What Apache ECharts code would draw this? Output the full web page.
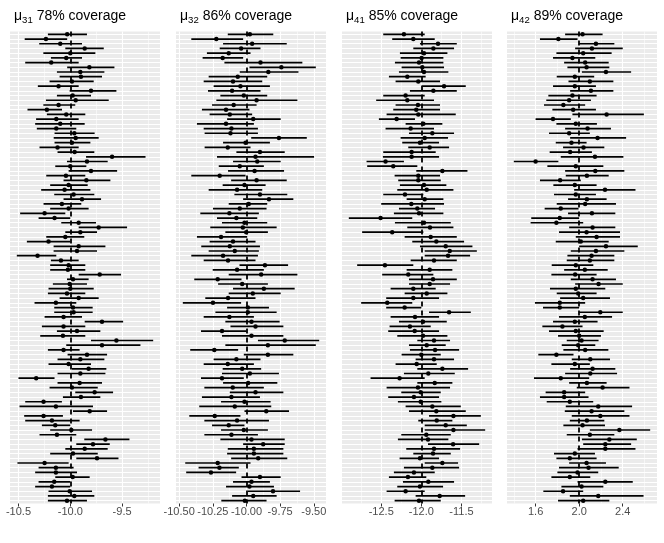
<!DOCTYPE html>
<html lang="en">
<head>
<meta charset="UTF-8">
<title>coverage</title>
<script src="https://cdn.jsdelivr.net/npm/echarts@6/dist/echarts.min.js"></script>
<style>
  html, body { margin: 0; padding: 0; background: #fff; }
  #chart { width: 664px; height: 543px; }
</style>
</head>
<body>
<div id="chart"></div>
<script>
// one row per simulated data set top to bottom
const mu31Est = [-10.03,-10.235,-10.097,-9.861,-10.0,-10.039,-10.184,-9.816,-9.903,-9.897,-9.984,-10.113,-9.8,-9.977,-9.948,-10.113,-10.226,-10.039,-10.135,-10.097,-10.135,-9.961,-9.948,-9.984,-10.123,-9.958,-9.597,-9.839,-10.0,-9.8,-10.042,-9.845,-10.016,-10.055,-9.968,-9.887,-10.081,-10.016,-10.248,-10.152,-9.919,-9.726,-9.903,-10.048,-10.21,-9.919,-9.935,-10.316,-10.09,-10.016,-10.023,-9.716,-9.974,-10.006,-10.0,-10.032,-9.919,-10.139,-9.974,-9.968,-10.065,-9.694,-10.065,-9.935,-10.071,-9.555,-9.694,-10.065,-9.839,-9.903,-10.016,-9.823,-9.903,-10.329,-9.91,-9.984,-9.765,-9.897,-10.258,-10.139,-9.813,-10.258,-10.177,-10.145,-9.99,-10.129,-9.661,-9.781,-9.861,-9.974,-9.742,-10.248,-10.139,-10.139,-9.977,-10.155,-10.177,-10.006,-9.961,-10.032];
const mu31Lo = [-10.216,-10.44,-10.3,-10.048,-10.26,-10.187,-10.435,-10.03,-10.129,-10.103,-10.2,-10.313,-10.006,-10.129,-10.235,-10.26,-10.413,-10.226,-10.33,-10.339,-10.323,-10.152,-10.16,-10.152,-10.297,-10.123,-9.848,-10.032,-10.145,-10.016,-10.232,-10.065,-10.194,-10.281,-10.155,-10.065,-10.258,-10.194,-10.484,-10.306,-10.087,-9.919,-10.048,-10.232,-10.419,-10.161,-10.161,-10.516,-10.187,-10.194,-10.194,-9.919,-10.032,-10.168,-10.21,-10.216,-10.103,-10.345,-10.155,-10.155,-10.248,-9.861,-10.274,-10.129,-10.29,-9.8,-10.039,-10.216,-10.026,-10.123,-10.21,-9.984,-10.123,-10.5,-10.123,-10.2,-9.952,-10.071,-10.435,-10.49,-9.974,-10.445,-10.435,-10.274,-10.194,-10.297,-9.865,-9.942,-10.048,-10.194,-9.942,-10.51,-10.306,-10.339,-10.145,-10.306,-10.339,-10.21,-10.216,-10.216];
const mu31Hi = [-9.839,-10.03,-9.887,-9.677,-9.758,-9.887,-9.919,-9.574,-9.671,-9.694,-9.774,-9.919,-9.555,-9.8,-9.629,-9.952,-10.08,-9.855,-9.919,-9.861,-9.942,-9.765,-9.726,-9.806,-9.919,-9.768,-9.274,-9.639,-9.845,-9.548,-9.855,-9.613,-9.832,-9.806,-9.768,-9.703,-9.894,-9.823,-10.048,-10.0,-9.752,-9.452,-9.742,-9.865,-10.0,-9.661,-9.742,-10.135,-9.919,-9.855,-9.855,-9.51,-9.823,-9.839,-9.774,-9.855,-9.726,-9.942,-9.784,-9.784,-9.887,-9.49,-9.855,-9.71,-9.855,-9.2,-9.323,-9.91,-9.645,-9.671,-9.8,-9.652,-9.661,-10.152,-9.694,-9.735,-9.587,-9.71,-10.081,-9.781,-9.645,-10.071,-9.91,-10.0,-9.79,-9.942,-9.429,-9.619,-9.639,-9.735,-9.535,-10.016,-9.968,-9.935,-9.813,-10.0,-10.0,-9.79,-9.768,-9.839];

const mu32Est = [-9.975,-10.224,-9.958,-10.04,-10.132,-10.177,-9.896,-9.741,-9.838,-10.065,-10.1,-10.045,-10.107,-10.02,-9.925,-10.095,-10.152,-10.124,-9.95,-10.152,-10.112,-10.119,-9.759,-10.007,-10.139,-9.9,-9.933,-9.92,-10.05,-9.94,-10.199,-9.925,-10.015,-10.07,-9.9,-9.833,-9.983,-10.05,-10.127,-10.075,-10.015,-10.027,-10.002,-10.189,-10.1,-10.124,-10.087,-10.174,-10.137,-9.863,-10.07,-9.891,-10.214,-10.032,-9.871,-9.953,-10.137,-10.249,-9.99,-9.99,-10.127,-9.963,-9.933,-10.182,-9.963,-9.716,-9.841,-10.239,-9.841,-10.075,-10.139,-10.032,-9.975,-10.182,-9.988,-10.102,-9.933,-10.112,-10.015,-10.087,-9.853,-10.236,-10.07,-10.132,-10.02,-10.112,-9.963,-9.876,-9.945,-9.945,-9.913,-10.214,-10.201,-10.264,-9.9,-9.963,-9.978,-9.803,-9.95,-10.012];
const mu32Lo = [-10.139,-10.41,-10.174,-10.199,-10.294,-10.326,-10.164,-9.978,-10.05,-10.281,-10.318,-10.244,-10.286,-10.194,-10.224,-10.256,-10.331,-10.274,-10.144,-10.368,-10.318,-10.311,-9.965,-10.174,-10.311,-10.075,-10.219,-10.1,-10.206,-10.137,-10.41,-10.114,-10.177,-10.281,-10.09,-10.025,-10.132,-10.249,-10.343,-10.219,-10.182,-10.269,-10.157,-10.368,-10.274,-10.336,-10.281,-10.41,-10.318,-10.052,-10.251,-10.132,-10.388,-10.211,-10.1,-10.132,-10.306,-10.473,-10.144,-10.231,-10.318,-10.157,-10.119,-10.338,-10.182,-9.915,-10.157,-10.418,-10.02,-10.244,-10.318,-10.177,-10.182,-10.338,-10.174,-10.313,-10.124,-10.331,-10.189,-10.351,-10.015,-10.425,-10.313,-10.256,-10.189,-10.313,-10.194,-10.025,-10.139,-10.144,-10.114,-10.455,-10.356,-10.448,-10.037,-10.1,-10.152,-9.99,-10.107,-10.187];
const mu32Hi = [-9.801,-10.025,-9.701,-9.896,-9.97,-10.025,-9.585,-9.485,-9.614,-9.846,-9.883,-9.826,-9.896,-9.846,-9.622,-9.925,-9.978,-9.958,-9.746,-9.945,-9.915,-9.915,-9.552,-9.826,-9.97,-9.716,-9.498,-9.746,-9.871,-9.721,-10.007,-9.701,-9.858,-9.883,-9.697,-9.652,-9.846,-9.851,-9.908,-9.92,-9.846,-9.776,-9.841,-9.995,-9.933,-9.9,-9.908,-9.915,-9.933,-9.691,-9.871,-9.622,-10.037,-9.841,-9.642,-9.746,-9.933,-10.04,-9.833,-9.776,-9.945,-9.754,-9.726,-10.0,-9.726,-9.46,-9.485,-10.062,-9.652,-9.896,-9.945,-9.891,-9.759,-10.02,-9.771,-9.871,-9.726,-9.9,-9.821,-9.816,-9.684,-10.045,-9.833,-10.015,-9.841,-9.915,-9.716,-9.716,-9.726,-9.726,-9.697,-9.97,-10.057,-10.077,-9.746,-9.826,-9.796,-9.602,-9.776,-9.851];

const mu41Est = [-12.217,-12.1,-11.792,-11.85,-11.967,-11.996,-12.029,-11.988,-11.967,-12.175,-12.038,-11.717,-11.85,-12.196,-12.175,-12.042,-12.063,-12.038,-12.308,-11.975,-12.133,-11.863,-11.958,-12.017,-11.896,-12.121,-12.121,-12.446,-12.35,-11.738,-12.038,-12.038,-11.967,-11.933,-12.204,-11.958,-12.125,-12.05,-12.029,-12.508,-11.967,-11.892,-12.363,-11.883,-11.813,-11.696,-11.646,-11.667,-11.842,-12.454,-11.896,-12.163,-11.854,-11.896,-12.1,-11.933,-12.1,-12.425,-12.208,-11.654,-12.079,-11.979,-12.142,-12.083,-11.979,-11.842,-11.933,-11.829,-12.0,-11.842,-12.058,-11.738,-11.913,-12.271,-11.833,-12.042,-12.008,-12.092,-12.008,-11.863,-11.813,-11.6,-11.808,-11.696,-11.6,-11.938,-11.917,-11.604,-11.842,-11.854,-12.017,-11.738,-11.863,-12.092,-12.167,-11.913,-12.017,-12.196,-11.771,-12.029];
const mu41Lo = [-12.475,-12.363,-12.017,-12.1,-12.267,-12.258,-12.329,-12.246,-12.279,-12.404,-12.321,-11.988,-12.142,-12.475,-12.563,-12.321,-12.35,-12.433,-12.529,-12.196,-12.446,-12.154,-12.258,-12.238,-12.163,-12.475,-12.479,-12.683,-12.675,-12.063,-12.333,-12.288,-12.267,-12.3,-12.475,-12.183,-12.5,-12.279,-12.342,-12.904,-12.329,-12.175,-12.738,-12.208,-12.113,-12.017,-11.958,-11.958,-12.133,-12.8,-12.183,-12.488,-12.154,-12.154,-12.383,-12.208,-12.438,-12.75,-12.438,-11.904,-12.383,-12.279,-12.396,-12.413,-12.3,-12.05,-12.154,-12.142,-12.246,-12.071,-12.321,-12.05,-12.217,-12.633,-12.05,-12.433,-12.25,-12.413,-12.292,-12.196,-12.154,-11.904,-12.038,-11.958,-11.958,-12.25,-12.292,-11.917,-12.188,-12.1,-12.271,-11.958,-12.217,-12.342,-12.404,-12.229,-12.3,-12.433,-12.071,-12.333];
const mu41Hi = [-11.958,-11.833,-11.558,-11.592,-11.675,-11.725,-11.725,-11.717,-11.663,-11.946,-11.767,-11.446,-11.558,-11.958,-11.842,-11.767,-11.767,-11.571,-12.079,-11.738,-11.842,-11.592,-11.667,-11.779,-11.654,-11.821,-11.779,-12.217,-12.05,-11.425,-11.767,-11.758,-11.688,-11.6,-11.975,-11.725,-11.717,-11.829,-11.725,-12.113,-11.633,-11.6,-11.975,-11.558,-11.467,-11.363,-11.308,-11.392,-11.558,-12.1,-11.613,-11.85,-11.558,-11.642,-11.821,-11.675,-11.779,-12.113,-12.0,-11.383,-11.779,-11.683,-11.883,-11.779,-11.675,-11.642,-11.696,-11.529,-11.758,-11.592,-11.808,-11.417,-11.583,-11.958,-11.613,-11.642,-11.758,-11.779,-11.75,-11.508,-11.446,-11.258,-11.613,-11.433,-11.204,-11.633,-11.663,-11.279,-11.517,-11.633,-11.779,-11.542,-11.529,-11.833,-11.938,-11.592,-11.729,-11.958,-11.454,-11.758];

const mu42Est = [2.031,1.809,2.154,2.117,2.037,1.938,2.055,2.068,2.246,1.96,2.098,1.96,2.108,1.938,1.908,1.855,1.945,2.252,1.76,1.969,2.077,1.908,2.169,1.929,2.04,1.917,2.145,1.6,1.969,2.148,2.071,1.825,1.96,2.237,1.969,2.071,2.055,1.831,2.117,1.822,1.791,2.123,2.068,2.16,2.015,2.246,2.154,2.114,2.098,1.969,2.052,1.963,2.123,2.178,1.969,1.991,2.037,1.822,1.822,2.194,2.052,1.96,1.846,1.969,2.0,2.022,1.991,2.055,1.791,2.102,1.96,2.123,2.102,1.831,2.071,2.215,1.862,1.862,1.914,2.175,2.114,2.194,2.071,2.031,2.369,2.098,2.277,2.24,2.24,1.96,1.914,2.068,2.086,1.985,1.914,2.24,2.022,1.852,2.175,2.037];
const mu42Lo = [1.871,1.64,2.0,1.963,1.791,1.76,1.862,1.892,2.025,1.794,1.902,1.76,1.917,1.717,1.698,1.677,1.754,1.938,1.6,1.791,1.871,1.723,1.917,1.785,1.852,1.729,1.831,1.4,1.708,1.871,1.877,1.64,1.763,1.954,1.769,1.898,1.794,1.683,1.898,1.56,1.554,1.908,1.815,1.969,1.785,2.0,1.923,1.892,1.886,1.748,1.862,1.745,1.923,1.963,1.732,1.794,1.825,1.594,1.668,2.0,1.815,1.76,1.662,1.723,1.806,1.886,1.84,1.855,1.625,1.932,1.745,1.917,1.871,1.585,1.908,1.978,1.692,1.64,1.702,1.877,1.868,1.932,1.914,1.855,2.098,1.886,2.025,2.037,1.985,1.769,1.791,1.908,1.815,1.8,1.745,1.985,1.837,1.671,1.914,1.806];
const mu42Hi = [2.215,1.985,2.323,2.4,2.298,2.148,2.271,2.277,2.477,2.138,2.314,2.154,2.314,2.16,2.108,2.055,2.154,2.594,1.923,2.163,2.292,2.098,2.431,2.068,2.231,2.117,2.406,1.809,2.222,2.415,2.271,2.015,2.16,2.517,2.154,2.252,2.338,1.994,2.332,2.0,2.037,2.332,2.375,2.375,2.271,2.538,2.415,2.323,2.323,2.13,2.262,2.16,2.338,2.4,2.24,2.16,2.283,2.055,2.0,2.4,2.302,2.169,2.031,2.225,2.2,2.178,2.148,2.268,1.948,2.283,2.098,2.332,2.348,2.092,2.252,2.462,2.055,2.086,2.129,2.486,2.415,2.462,2.231,2.237,2.652,2.323,2.529,2.477,2.517,2.145,2.16,2.246,2.363,2.175,2.102,2.492,2.222,2.037,2.591,2.277];

// true parameter values (dashed lines) and axis breaks
const trueValues = [-10, -10, -12, 2];
const subscripts = ['31', '32', '41', '42'];
const coverage = ['78%', '86%', '85%', '89%'];
const majorTicks = [[-10.5, -10.0, -9.5], [-10.5, -10.25, -10.0, -9.75, -9.5], [-12.5, -12.0, -11.5], [1.6, 2.0, 2.4]];
const minorTicks = [[-10.25, -9.75, -9.25], [-10.375, -10.125, -9.875, -9.625], [-12.75, -12.25, -11.75, -11.25], [1.4, 1.8, 2.2, 2.6]];
const tickDigits = [1, 2, 1, 1];

const estimates = [mu31Est, mu32Est, mu41Est, mu42Est];
const lowers = [mu31Lo, mu32Lo, mu41Lo, mu42Lo];
const uppers = [mu31Hi, mu32Hi, mu41Hi, mu42Hi];

// layout
const panelLeft = [10, 176, 342, 507];
const panelWidth = 150;
const panelTop = 31.5;
const panelHeight = 472;
const font = 'Liberation Sans';

const rows = mu31Est.map((_, i) => i + 1);

const grids = [], xAxes = [], yAxes = [], series = [], titles = [];

for (let p = 0; p < 4; p++) {
    const lo = Math.min(...lowers[p]), hi = Math.max(...uppers[p]);
    const pad = (hi - lo) * 0.05; // ggplot default expansion
    const d = tickDigits[p];

    grids.push({
        left: panelLeft[p], top: panelTop, width: panelWidth, height: panelHeight,
        show: true, backgroundColor: '#EBEBEB', borderWidth: 0, outerBoundsMode: 'none'
    });

    xAxes.push({
        type: 'value', gridIndex: p, min: lo - pad, max: hi + pad,
        axisLine: {show: false},
        axisTick: {show: true, length: 3, customValues: majorTicks[p], lineStyle: {color: '#333333', width: 1}},
        axisLabel: {customValues: majorTicks[p], formatter: v => v.toFixed(d), color: '#4D4D4D',
            fontSize: 11, fontFamily: font, margin: 3},
        splitLine: {show: true, lineStyle: {color: '#FFFFFF', width: 1.1}}
    });
    // second axis only to carry the thinner minor grid lines
    xAxes.push({
        type: 'value', gridIndex: p, min: lo - pad, max: hi + pad, position: 'top',
        axisLine: {show: false},
        axisTick: {show: false, customValues: minorTicks[p]},
        axisLabel: {show: false},
        splitLine: {show: true, lineStyle: {color: '#FFFFFF', width: 0.55}}
    });

    yAxes.push({
        type: 'value', gridIndex: p, min: 0.4, max: rows.length + 0.6, inverse: true,
        axisLine: {show: false},
        axisTick: {show: false, customValues: rows},
        axisLabel: {show: false},
        splitLine: {show: true, lineStyle: {color: '#FFFFFF', width: 1.1}}
    });

    series.push({
        type: 'custom', xAxisIndex: p * 2, yAxisIndex: p, z: 2,
        encode: {x: [0, 1], y: 2},
        data: rows.map((r, i) => [lowers[p][i], uppers[p][i], r]),
        renderItem: function (params, api) {
            const a = api.coord([api.value(0), api.value(2)]);
            const b = api.coord([api.value(1), api.value(2)]);
            return {
                type: 'line',
                shape: {x1: a[0], y1: a[1], x2: b[0], y2: b[1]},
                style: {stroke: '#000000', lineWidth: 1.7}
            };
        },
        markLine: {
            silent: true, symbol: ['none', 'none'], label: {show: false},
            lineStyle: {color: '#000000', type: [5, 4], width: 1.8},
            data: [{xAxis: trueValues[p]}]
        }
    });
    series.push({
        type: 'scatter', xAxisIndex: p * 2, yAxisIndex: p, z: 3,
        symbolSize: 4.5, itemStyle: {color: '#000000', opacity: 1},
        data: rows.map((r, i) => [estimates[p][i], r])
    });

    titles.push({
        left: panelLeft[p] - 1, top: 2,
        text: '{mu|μ}{sub|' + subscripts[p] + '}{txt| ' + coverage[p] + ' coverage}',
        textStyle: {
            fontWeight: 'normal',
            rich: {
                mu: {fontSize: 14, lineHeight: 18, fontFamily: font, fontWeight: 'normal', color: '#000'},
                sub: {fontSize: 9.6, lineHeight: 12, verticalAlign: 'bottom', fontFamily: font, fontWeight: 'normal', color: '#000'},
                txt: {fontSize: 14, lineHeight: 18, fontFamily: font, fontWeight: 'normal', color: '#000'}
            }
        }
    });
}

const chart = echarts.init(document.getElementById('chart'));
chart.setOption({
    animation: false,
    backgroundColor: '#FFFFFF',
    title: titles,
    grid: grids,
    xAxis: xAxes,
    yAxis: yAxes,
    series: series
});
</script>
</body>
</html>
